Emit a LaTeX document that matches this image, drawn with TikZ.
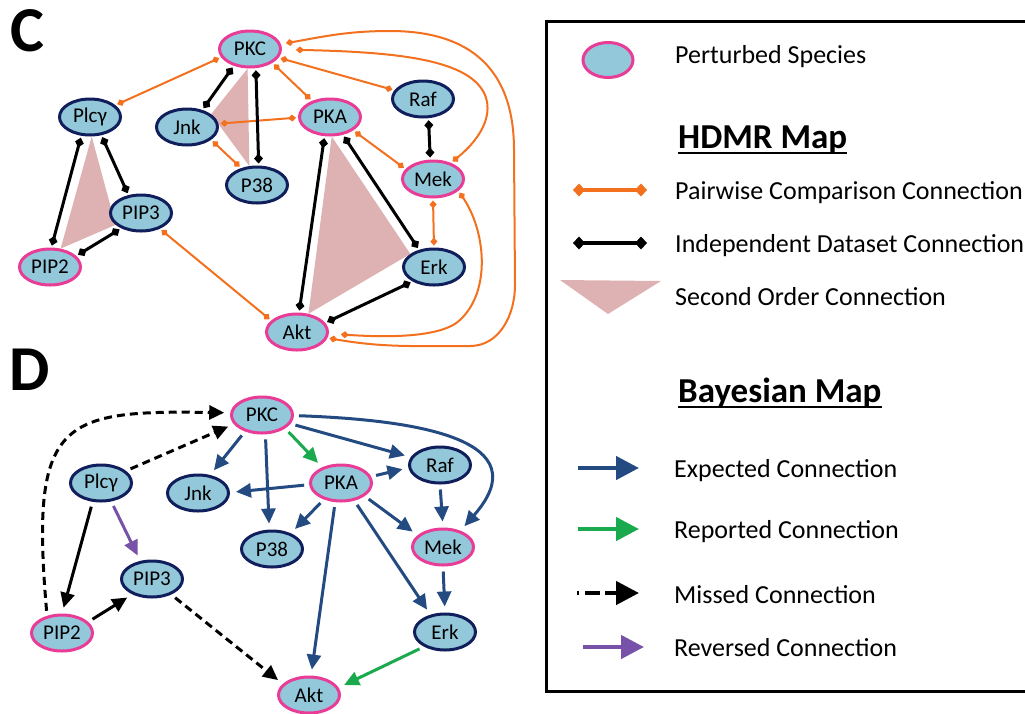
\documentclass[tikz,border=0pt]{standalone}
\usepackage{fontspec}
\setmainfont{Carlito}
\usetikzlibrary{arrows.meta,shapes.geometric,backgrounds}
\definecolor{nfill}{RGB}{147,200,218}
\definecolor{pinkb}{RGB}{232,60,150}
\definecolor{navyb}{RGB}{16,30,92}
\definecolor{orng}{RGB}{242,112,30}
\definecolor{sord}{RGB}{222,178,178}
\definecolor{blu}{RGB}{36,74,130}
\definecolor{grn}{RGB}{24,170,76}
\definecolor{purp}{RGB}{120,82,168}
\begin{document}
\begin{tikzpicture}[x=1pt,y=-1pt,
  sp/.style={ellipse, fill=nfill, line width=3pt, minimum width=61pt, minimum height=36pt, inner sep=0pt, font=\fontsize{21}{21}\selectfont},
  pert/.style={sp, draw=pinkb},
  unp/.style={sp, draw=navyb},
  pw/.style={draw=orng, line width=2pt, arrows={Diamond[length=8pt,width=7pt]-Diamond[length=8pt,width=7pt]}, shorten <=2pt, shorten >=2pt},
  idp/.style={draw=black, line width=3pt, arrows={Diamond[length=10pt,width=9pt]-Diamond[length=10pt,width=9pt]}, shorten <=2pt, shorten >=2pt},
  arr/.style={line width=3pt, arrows={-Triangle[length=15pt,width=14pt]}, shorten <=5pt, shorten >=6pt},
  expc/.style={arr, draw=blu},
  repc/.style={arr, draw=grn},
  revc/.style={arr, draw=purp},
  misc/.style={arr, draw=black, dash pattern=on 8pt off 5pt},
  solc/.style={arr, draw=black},
  lgtext/.style={anchor=base west, inner sep=0pt, font=\fontsize{26}{30}\selectfont},
  lghead/.style={anchor=base west, inner sep=0pt, font=\bfseries\fontsize{35}{40}\selectfont},
  panel/.style={inner sep=0pt, font=\bfseries\fontsize{64}{64}\selectfont},
  lgarrow/.style={line width=4.5pt, arrows={-Triangle[length=23pt,width=23pt]}},
  lgdiam/.style={line width=4pt, arrows={Diamond[length=12pt,width=13pt]-Diamond[length=12pt,width=13pt]}}
]
\useasboundingbox (0,0) rectangle (1025,713);

% ---------------- Panel C ----------------
\node[panel] (labC) at (27,31) {C};
\node[pert] (cPKC) at (250,49) {PKC};
\node[unp] (cPlcy) at (90,117) {Plcγ};
\node[unp] (cJnk) at (187,127) {Jnk};
\node[pert] (cPKA) at (330,117) {PKA};
\node[unp] (cRaf) at (423,99) {Raf};
\node[pert] (cMek) at (433,179) {Mek};
\node[unp] (cP38) at (257,185) {P38};
\node[unp] (cPIP3) at (141,213) {PIP3};
\node[pert] (cPIP2) at (50,267) {PIP2};
\node[unp] (cErk) at (434,267) {Erk};
\node[pert] (cAkt) at (297,332) {Akt};

\begin{scope}[on background layer]
\fill[sord] (cPlcy.-85) -- (cPIP2.60) -- (cPIP3.205) -- cycle;
\fill[sord] (cPKC.-97) -- (cJnk.28) -- (cP38.112) -- cycle;
\fill[sord] (cPKA.-85) -- (cAkt.58) -- (cErk.151) -- cycle;
\end{scope}

\draw[pw] (cPKC.196) -- (cPlcy.25);
\draw[pw] (cPKC.-32) -- (cPKA.138);
\draw[pw] (cPKC.-17) -- (cRaf.163);
\draw[pw, shorten <=14pt] (cPKC.-1) .. controls (400,52) and (470,60) .. (485,95) .. controls (492,112) and (485,135) .. (cMek.42);
\draw[pw, shorten <=5pt] (cPKC.9) to[out=10,in=180] (390,31) to[out=0,in=90,looseness=1.2] (514,150) -- (515,285) to[out=-90,in=0] (470,346) to[out=180,in=-10] (cAkt.-11);
\draw[pw, shorten >=12pt] (cMek.-25) .. controls (485,230) and (492,290) .. (460,320) .. controls (440,339) and (380,337) .. (cAkt.-3);
\draw[pw] (cJnk.6) -- (cPKA.181);
\draw[pw] (cJnk.-28) -- (cP38.133);
\draw[pw] (cPKA.-30) -- (cMek.160);
\draw[pw] (cMek.south) -- (cErk.north);
\draw[pw] (cPIP3.-40) -- (cAkt.156);

\draw[idp] (cPKC.-134) -- (cJnk.48);
\draw[idp] (cPKC.-73) -- (cP38.85);
\draw[idp] (cRaf.-74) -- (cMek.98);
\draw[idp] (cPlcy.-115) -- (cPIP2.86);
\draw[idp] (cPlcy.-58) -- (cPIP3.125);
\draw[idp] (cPIP2.23) -- (cPIP3.-142);
\draw[idp] (cPKA.-106) -- (cAkt.84);
\draw[idp] (cPKA.-54) -- (cErk.131);
\draw[idp] (cAkt.18) -- (cErk.-146);

% ---------------- Panel D ----------------
\node[panel] (labD) at (30,370) {D};
\node[pert] (dPKC) at (262,415) {PKC};
\node[unp] (dPlcy) at (101,483) {Plcγ};
\node[unp] (dJnk) at (198,493) {Jnk};
\node[pert] (dPKA) at (341,483) {PKA};
\node[unp] (dRaf) at (440,465) {Raf};
\node[pert] (dMek) at (443,547) {Mek};
\node[unp] (dP38) at (272,549) {P38};
\node[unp] (dPIP3) at (152,579) {PIP3};
\node[pert] (dPIP2) at (62,633) {PIP2};
\node[unp] (dErk) at (445,632) {Erk};
\node[pert] (dAkt) at (309,695) {Akt};

\draw[expc] (dPKC.-136) -- (dJnk.56);
\draw[expc] (dPKC.-80) -- (dP38.98);
\draw[expc] (dPKA.183) -- (dJnk.1);
\draw[expc] (dPKC.-17) -- (dRaf.165);
\draw[expc] (dPKC.-1) .. controls (420,420) and (540,440) .. (dMek.43);
\draw[expc] (dPKA.12) -- (dRaf.185);
\draw[expc] (dRaf.south) -- (dMek.north);
\draw[expc] (dPKA.-136) -- (dP38.40);
\draw[expc] (dPKA.-29) -- (dMek.155);
\draw[expc] (dPKA.-107) -- (dAkt.84);
\draw[expc] (dPKA.-53) -- (dErk.130);
\draw[expc] (dMek.south) -- (dErk.north);
\draw[repc] (dPKC.-30) -- (dPKA.140);
\draw[repc] (dErk.215) -- (dAkt.14);
\draw[revc] (dPlcy.-61) -- (dPIP3.123);
\draw[solc] (dPlcy.-114) -- (dPIP2.90);
\draw[solc] (dPIP2.23) -- (dPIP3.-142);
\draw[misc] (dPIP2.131) .. controls (30,420) and (60,410) .. (dPKC.176);
\draw[misc] (dPlcy.26) -- (dPKC.198);
\draw[misc] (dPIP3.-39) -- (dAkt.157);

% ---------------- Legend ----------------
\draw[line width=3pt] (546,21) rectangle (1040,691);
\node[pert, minimum width=50pt, minimum height=35pt] (lgEll) at (608,60) {};
\node[lgtext] (tPert) at (675,63) {Perturbed Species};
\node[lghead] (tHDMR) at (678,148) {HDMR Map};
\draw[line width=2pt] ([yshift=-5pt]tHDMR.base west) -- ([yshift=-5pt]tHDMR.base east);
\coordinate (pwA) at (573,190); \coordinate (pwB) at (647,190);
\draw[lgdiam, draw=orng] (pwA) -- (pwB);
\node[lgtext] (tPW) at (675,199) {Pairwise Comparison Connection};
\coordinate (idA) at (573,243); \coordinate (idB) at (647,243);
\draw[lgdiam, draw=black] (idA) -- (idB);
\node[lgtext] (tID) at (675,252) {Independent Dataset Connection};
\fill[sord] (560,280) -- (661,281) -- (608,314) -- cycle;
\node[lgtext] (tSO) at (675,305) {Second Order Connection};
\node[lghead] (tBay) at (678,402) {Bayesian Map};
\draw[line width=2pt] ([yshift=-5pt]tBay.base west) -- ([yshift=-5pt]tBay.base east);
\coordinate (exA) at (578,468); \coordinate (exB) at (639,468);
\draw[lgarrow, draw=blu] (exA) -- (exB);
\node[lgtext] (tEx) at (674,477) {Expected Connection};
\coordinate (reA) at (578,529); \coordinate (reB) at (639,529);
\draw[lgarrow, draw=grn] (reA) -- (reB);
\node[lgtext] (tRe) at (674,538) {Reported Connection};
\coordinate (miA) at (577,593); \coordinate (miB) at (639,593);
\draw[lgarrow, draw=black, dash pattern=on 2pt off 6pt on 15pt off 5pt on 40pt] (miA) -- (miB);
\node[lgtext] (tMi) at (674,603) {Missed Connection};
\coordinate (rvA) at (583,647); \coordinate (rvB) at (644,647);
\draw[lgarrow, draw=purp] (rvA) -- (rvB);
\node[lgtext] (tRv) at (674,656) {Reversed Connection};
\end{tikzpicture}
\end{document}
